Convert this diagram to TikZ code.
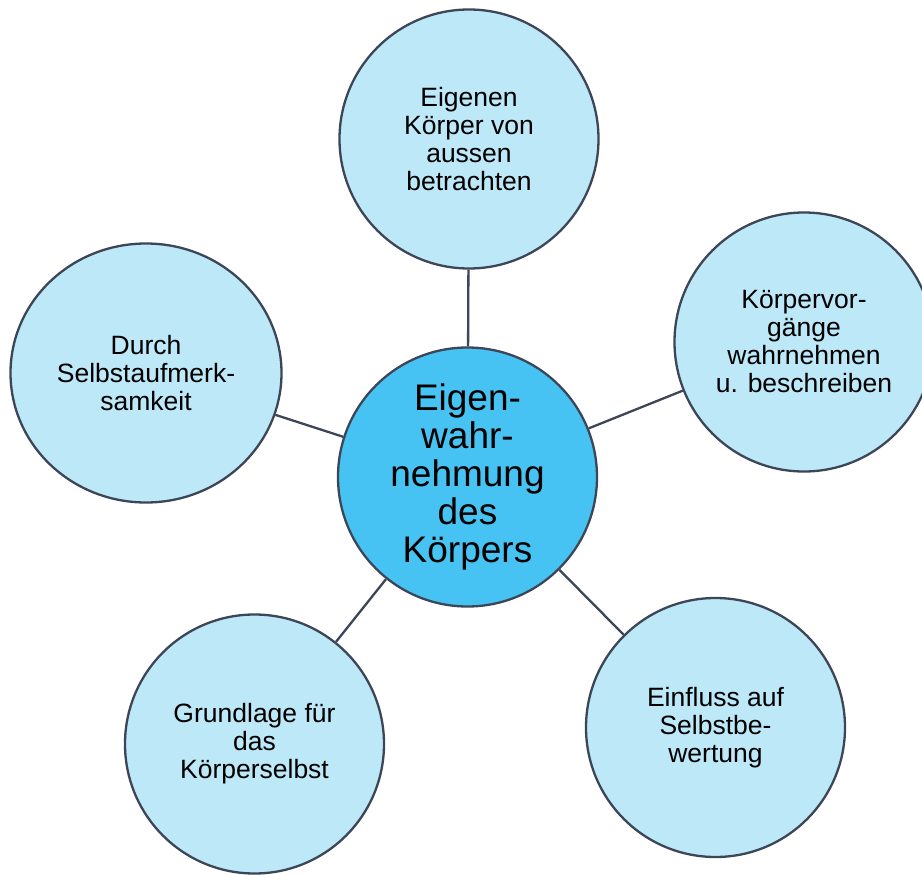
\documentclass[tikz,border=0pt]{standalone}
\usepackage{fontspec}
\setmainfont{Liberation Sans}
\usetikzlibrary{shapes.geometric}
\definecolor{pale}{HTML}{BCE8F8}
\definecolor{core}{HTML}{46C3F2}
\definecolor{rim}{HTML}{3C4657}

\begin{document}
\begin{tikzpicture}[x=1pt, y=-1pt,
		bubble/.style={circle, draw=rim, line width=2.3pt, fill=pale, minimum size=259pt, inner sep=0pt, align=center, font=\fontsize{26.5}{28}\selectfont},
		hub/.style={bubble, fill=core, font=\fontsize{37}{38}\selectfont},
		link/.style={draw=rim, line width=2.3pt}]
			\useasboundingbox (0, 0) rectangle (922, 875);
			\clip (0, 0) rectangle (922, 875);
			\node[hub] (body) at (467.5, 477) {Eigen-\\wahr-\\nehmung\\des\\Körpers};
			\node[bubble] (outside) at (469, 139) {Eigenen\\Körper von\\aussen\\betrachten};
			\node[bubble] (processes) at (804, 342) {Körpervor-\\gänge\\wahrnehmen\\u. beschreiben};
			\node[bubble] (rating) at (715.5, 727.5) {Einfluss auf\\Selbstbe-\\wertung};
			\node[bubble] (basis) at (254.5, 744) {Grundlage für\\das\\Körperselbst};
			\node[bubble, ellipse, minimum width=271pt, minimum height=259pt] (attention) at (146, 373) {Durch\\Selbstaufmerk-\\samkeit};
			\draw[link] (body) -- (outside);
			\draw[link] (body) -- (processes);
			\draw[link] (body) -- (rating);
			\draw[link] (body) -- (basis);
			\draw[link] (body) -- (attention);
		\end{tikzpicture}
\end{document}
